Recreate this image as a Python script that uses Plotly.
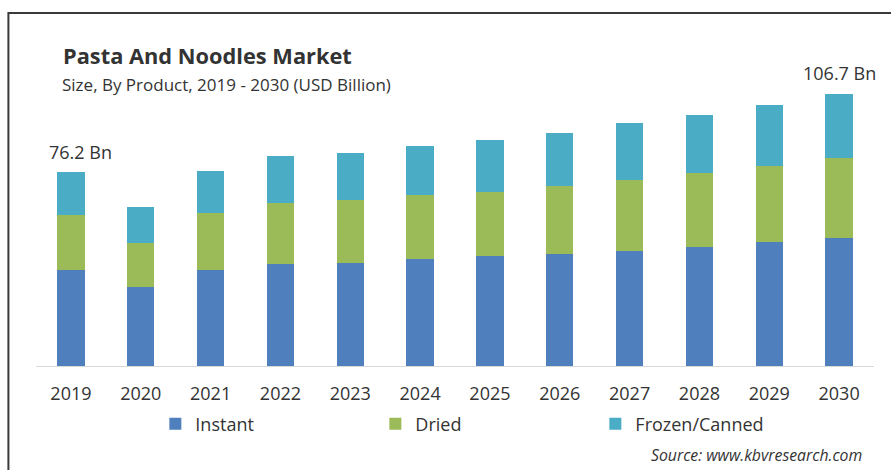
import plotly.graph_objects as go

# Market size by product type, USD billion
years = ["2019", "2020", "2021", "2022", "2023", "2024", "2025", "2026", "2027", "2028", "2029", "2030"]
instant = [37.7, 31.2, 37.7, 40.0, 40.6, 41.9, 43.1, 44.1, 45.2, 46.9, 48.7, 50.4]
dried = [21.6, 17.3, 22.3, 24.0, 24.5, 25.1, 25.4, 26.6, 27.8, 29.1, 29.9, 31.2]
frozen_canned = [16.9, 14.1, 16.8, 18.6, 18.7, 19.6, 20.3, 20.9, 22.3, 22.7, 24.0, 25.1]

series = [
    ("Instant", instant, "#4f7fbd"),
    ("Dried", dried, "#9bbb59"),
    ("Frozen/Canned", frozen_canned, "#4bacc6"),
]

FONT = "Open Sans, Noto Sans, sans-serif"
TEXT = "#333333"

fig = go.Figure()
for name, vals, color in series:
    fig.add_trace(go.Bar(
        x=years, y=vals, name=name,
        marker=dict(color=color, line=dict(width=0)),
        hoverinfo="x+y+name",
    ))

totals = [round(a + b + c, 1) for a, b, c in zip(instant, dried, frozen_canned)]

# Total labels on the first and last year (x given as category index)
for idx, xshift, yshift in ((0, 10, 6), (len(years) - 1, 0, 7)):
    fig.add_annotation(
        x=idx, y=totals[idx], xref="x", yref="y",
        text=f"{totals[idx]} Bn", showarrow=False,
        yanchor="bottom", xshift=xshift, yshift=yshift,
        font=dict(family=FONT, size=18, color=TEXT),
    )

W, H = 891, 470
L, R, T, B = 35.6, W - 874, 60, H - 366
PW, PH = W - L - R, H - T - B


def px_x(px):
    return (px - L) / PW


def px_y(py):
    # py measured from the top of the page
    return (H - py - B) / PH


fig.add_annotation(
    x=px_x(61), y=px_y(55), xref="paper", yref="paper",
    text="<b>Pasta And Noodles Market</b>", showarrow=False,
    xanchor="left", yanchor="middle",
    font=dict(family=FONT, size=21.8, color=TEXT),
)
fig.add_annotation(
    x=px_x(60), y=px_y(84), xref="paper", yref="paper",
    text="Size, By Product, 2019 - 2030 (USD Billion)", showarrow=False,
    xanchor="left", yanchor="middle",
    font=dict(family=FONT, size=17, color=TEXT),
)
fig.add_annotation(
    x=px_x(864), y=px_y(455), xref="paper", yref="paper",
    text="<i>Source: www.kbvresearch.com</i>", showarrow=False,
    xanchor="right", yanchor="middle",
    font=dict(family=FONT, size=15.8, color=TEXT),
)

fig.update_layout(
    width=W, height=H,
    margin=dict(l=L, r=R, t=T, b=B, pad=0),
    paper_bgcolor="white", plot_bgcolor="white",
    barmode="stack", bargap=0.61,
    showlegend=True,
    legend=dict(
        orientation="h", x=px_x(155), y=px_y(424),
        xanchor="left", yanchor="middle",
        entrywidth=175, entrywidthmode="pixels", itemwidth=30,
        traceorder="normal",
        font=dict(family=FONT, size=18, color=TEXT),
        bgcolor="rgba(0,0,0,0)",
    ),
    xaxis=dict(
        type="category", range=[-0.5, len(years) - 0.5],
        showgrid=False, showline=True, linecolor="#d9d9d9", linewidth=1,
        ticks="outside", ticklen=11, tickcolor="rgba(0,0,0,0)",
        tickfont=dict(family=FONT, size=18, color=TEXT),
        fixedrange=True,
    ),
    yaxis=dict(
        range=[0, (366 - 60) / 2.545], showgrid=False, showticklabels=False,
        zeroline=False, showline=False, fixedrange=True,
    ),
    font=dict(family=FONT, color=TEXT),
)

# thin frame around the chart area (open at right and bottom edges)
fig.add_shape(
    type="rect", xref="paper", yref="paper",
    x0=px_x(8), x1=px_x(W + 10),
    y0=px_y(H + 10), y1=px_y(13),
    line=dict(color="#3a3a3a", width=2), layer="below",
)

fig.write_html("out.html")
